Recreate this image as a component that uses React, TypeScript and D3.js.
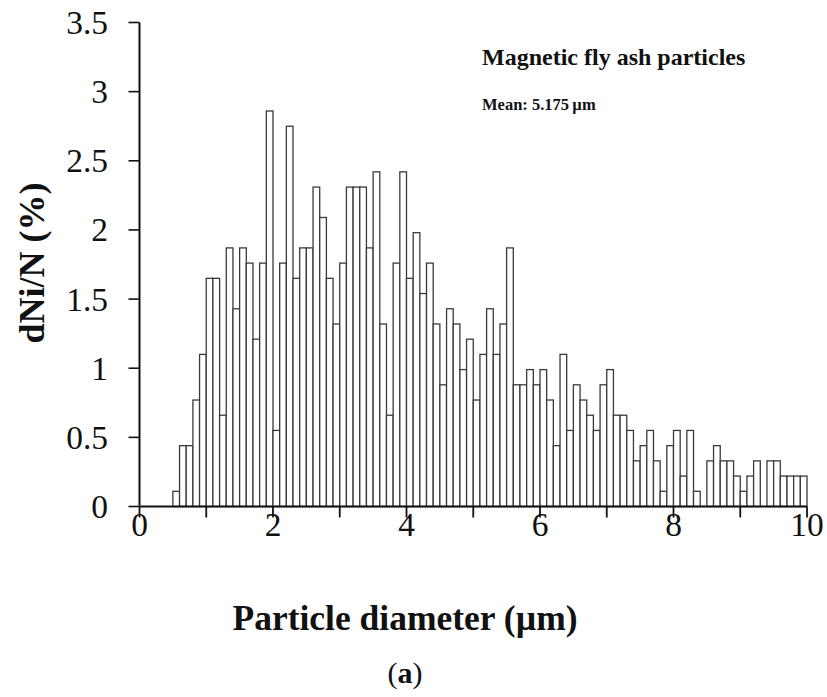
import React from "react";
import * as d3 from "d3";

// Bin left edges (µm), bin width 0.1 µm
const binStarts: number[] = d3.range(5, 100).map((i) => i / 10);
// dNi/N (%) per bin
const binValues: number[] = [
  0.11, 0.44, 0.44, 0.77, 1.10,
  1.65, 1.65, 0.66, 1.87, 1.43, 1.87, 1.76, 1.21, 1.76, 2.86,
  0.55, 1.76, 2.75, 1.65, 1.87, 1.87, 2.31, 2.09, 1.65, 1.32,
  1.76, 2.31, 2.31, 2.31, 1.87, 2.42, 1.32, 0.66, 1.76, 2.42,
  1.65, 1.98, 1.54, 1.76, 1.32, 0.88, 1.43, 1.32, 0.99, 1.21,
  0.77, 1.10, 1.43, 1.10, 1.32, 1.87, 0.88, 0.88, 0.99, 0.88,
  0.99, 0.77, 0.44, 1.10, 0.55, 0.88, 0.77, 0.66, 0.55, 0.88,
  0.99, 0.66, 0.66, 0.55, 0.33, 0.44, 0.55, 0.33, 0.11, 0.44,
  0.55, 0.22, 0.55, 0.11, 0.00, 0.33, 0.44, 0.33, 0.33, 0.22,
  0.11, 0.22, 0.33, 0.00, 0.33, 0.33, 0.22, 0.22, 0.22, 0.22,
];
const binWidth = 0.1;
const xTicks: number[] = [0, 1, 2, 3, 4, 5, 6, 7, 8, 9, 10];
const xTickLabels: number[] = [0, 2, 4, 6, 8, 10];
const yTicks: number[] = [0, 0.5, 1, 1.5, 2, 2.5, 3, 3.5];

const title = "Magnetic fly ash particles";
const meanLabel = "Mean: 5.175\u2009µm";
const xTitle = "Particle diameter (µm)";
const yTitle = "dNi/N (%)";

export default function App() {
  const W = 827;
  const H = 697;
  const x = d3.scaleLinear().domain([0, 10]).range([139.5, 807]);
  const y = d3.scaleLinear().domain([0, 3.5]).range([506.5, 22.5]);
  const font = "'Liberation Serif', 'Times New Roman', serif";
  const ink = "#111";

  return (
    <div style={{ position: "absolute", left: 0, top: 0 }}>
      <svg width={W} height={H} style={{ display: "block", background: "#fff" }}>
        {/* bars */}
        <g>
          {binStarts.map((s, i) =>
            binValues[i] > 0 ? (
              <rect
                key={i}
                x={x(s)}
                y={y(binValues[i])}
                width={x(s + binWidth) - x(s)}
                height={y(0) - y(binValues[i])}
                fill="#fff"
                stroke="#3a3a3a"
                strokeWidth={1.3}
              />
            ) : null
          )}
        </g>
        {/* y axis */}
        <line x1={x(0)} x2={x(0)} y1={y(0)} y2={y(3.5)} stroke={ink} strokeWidth={2} />
        {yTicks.map((t) => (
          <g key={t}>
            <line x1={x(0) - 11} x2={x(0)} y1={y(t)} y2={y(t)} stroke={ink} strokeWidth={1.6} />
            <text
              x={108}
              y={y(t) + 11.5}
              textAnchor="end"
              fontFamily={font}
              fontSize={33.5}
              fill={ink}
            >
              {String(t)}
            </text>
          </g>
        ))}
        {/* x axis */}
        <line x1={x(0)} x2={x(10)} y1={y(0)} y2={y(0)} stroke={ink} strokeWidth={2} />
        {xTicks.map((t) => (
          <line key={t} x1={x(t)} x2={x(t)} y1={y(0)} y2={y(0) + 11} stroke={ink} strokeWidth={1.8} />
        ))}
        {xTickLabels.map((t) => (
          <text
            key={t}
            x={x(t)}
            y={536}
            textAnchor="middle"
            fontFamily={font}
            fontSize={33.5}
            fill={ink}
          >
            {String(t)}
          </text>
        ))}
        {/* titles */}
        <text
          x={405}
          y={630}
          textAnchor="middle"
          fontFamily={font}
          fontWeight="bold"
          fontSize={35.5}
          fill={ink}
        >
          {xTitle}
        </text>
        <text
          transform={`translate(44,263) rotate(-90)`}
          textAnchor="middle"
          fontFamily={font}
          fontWeight="bold"
          fontSize={36}
          fill={ink}
        >
          {yTitle}
        </text>
        <text x={482} y={65} fontFamily={font} fontWeight="bold" fontSize={24} fill={ink}>
          {title}
        </text>
        <text x={482} y={110} fontFamily={font} fontWeight="bold" fontSize={16.5} fill={ink}>
          {meanLabel}
        </text>
        <text x={405} y={683} textAnchor="middle" fontFamily={font} fontSize={30} fill={ink}>
          (<tspan fontWeight="bold">a</tspan>)
        </text>
      </svg>
    </div>
  );
}
